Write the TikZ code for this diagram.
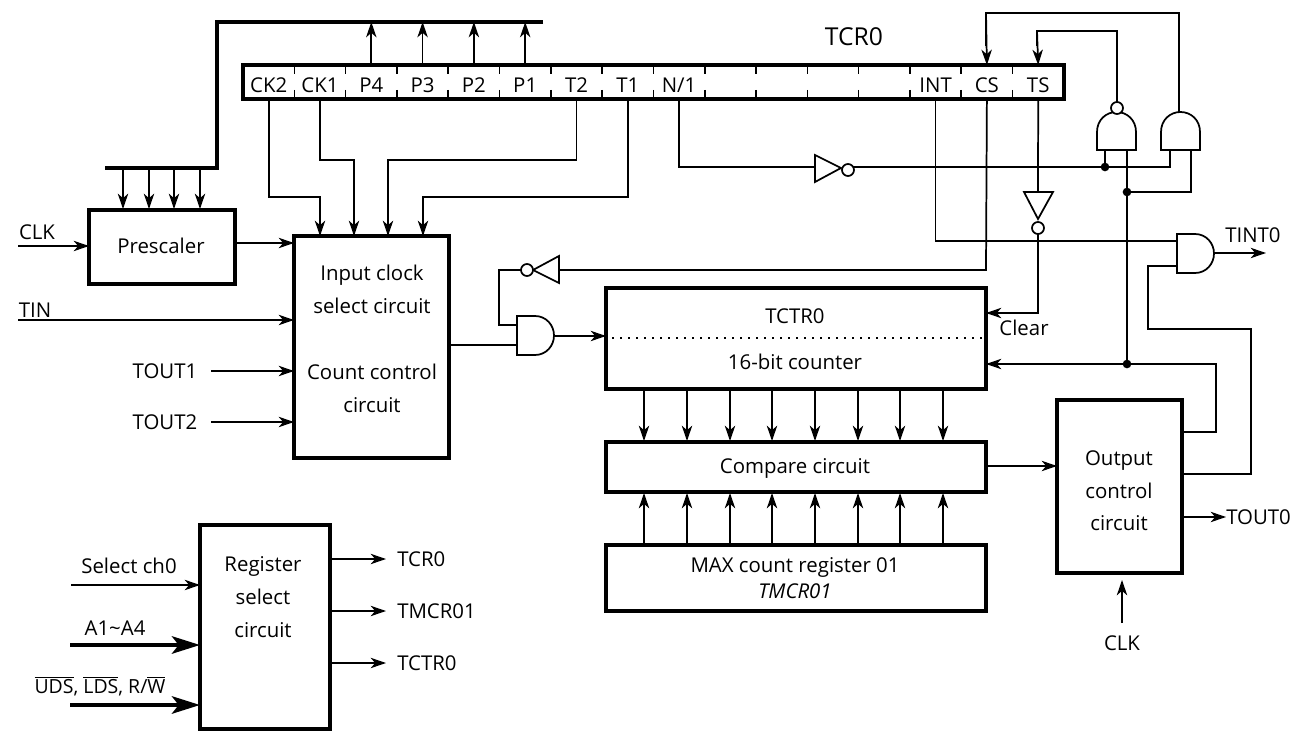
\documentclass[tikz,border=0pt]{standalone}
\usepackage{fontspec}
\setmainfont{Open Sans}
\usetikzlibrary{arrows.meta}
\tikzset{
  x=0.75pt,y=-0.75pt,
  wire/.style={line width=1.3pt,line cap=rect,line join=miter},
  arr/.style={line width=1.3pt,-{Stealth[length=11.5pt,width=7.8pt,inset=3.4pt]}},
  thickarr/.style={line width=3.2pt,-{Stealth[length=21pt,width=13pt,inset=5pt]}},
  bus/.style={line width=3.2pt,line join=miter},
  boxx/.style={draw,line width=2.8pt,inner sep=0pt,outer sep=0pt,anchor=north west},
  txt/.style={font=\fontsize{15.3}{20}\selectfont,inner sep=0pt},
  multi/.style={txt,align=center,font=\fontsize{15.3}{24.5}\selectfont},
  bubble/.style={draw,circle,line width=1.3pt,minimum size=9pt,inner sep=0pt,outer sep=0pt,fill=white},
  dot/.style={fill,circle,minimum size=6.5pt,inner sep=0pt,outer sep=0pt},
  gate/.style={draw,line width=1.3pt,line join=miter,fill=white},
  andright/.pic={\path[gate] (0,0) -- (18,0) .. controls (29,0) and (37,9) .. (37,19.5) .. controls (37,30) and (29,39) .. (18,39) -- (0,39) -- cycle;},
  andup/.pic={\path[gate] (0,0) -- (0,-18) .. controls (0,-30) and (9,-38) .. (19.5,-38) .. controls (30,-38) and (39,-30) .. (39,-18) -- (39,0) -- cycle;},
}
\newcommand{\ovl}[1]{$\overline{\hbox{#1}}$}
\begin{document}
\begin{tikzpicture}
\useasboundingbox (0,0) rectangle (1293,731);

% boxes
\node[boxx,minimum width=821*0.75pt,minimum height=34*0.75pt] (tcr) at (243,65) {};
\node[boxx,minimum width=146*0.75pt,minimum height=74*0.75pt] (pre) at (89,210) {};
\node[boxx,minimum width=155*0.75pt,minimum height=222*0.75pt] (inp) at (294,236) {};
\node[boxx,minimum width=130*0.75pt,minimum height=204*0.75pt] (reg) at (200,525) {};
\node[boxx,minimum width=380*0.75pt,minimum height=101*0.75pt] (ctr) at (606,288) {};
\node[boxx,minimum width=380*0.75pt,minimum height=50*0.75pt] (cmp) at (606,442) {};
\node[boxx,minimum width=380*0.75pt,minimum height=66*0.75pt] (max) at (606,545) {};
\node[boxx,minimum width=125*0.75pt,minimum height=173*0.75pt] (out) at (1057,400) {};

% register cell ticks and labels
\foreach \i in {1,...,15} {
  \draw[line width=1.2pt] (243+\i*51.3,66) -- (243+\i*51.3,74);
  \draw[line width=1.2pt] (243+\i*51.3,90) -- (243+\i*51.3,98);
}
\foreach \i/\t/\n in {0/CK2/ck2,1/CK1/ck1,2/P4/p4,3/P3/p3,4/P2/p2,5/P1/p1,6/T2/t2,7/T1/t1,8/N\slash 1/nn,13/INT/int,14/CS/cs,15/TS/ts} {
  \node[txt] (\n) at (243+\i*51.3+25.7,85) {\t};
  \coordinate (\n t) at (243+\i*51.3+25.7,65);
  \coordinate (\n b) at (243+\i*51.3+25.7,99);
}
\node[txt,font=\fontsize{18.5}{22}\selectfont] (tcrlab) at (854,37) {TCR0};

% text in boxes
\node[txt] (pretxt) at (161,246) {Prescaler};
\node[multi] (inptxt) at (372,339) {Input clock\\select circuit\\[25pt]Count control\\circuit};
\node[multi] (regtxt) at (263,597) {Register\\select\\circuit};
\node[txt] (ctrtop) at (795,316) {TCTR0};
\node[txt] (ctrbot) at (795,362) {16-bit counter};
\node[txt] (cmptxt) at (795,468) {Compare circuit};
\node[txt,align=center] (maxtxt) at (795,578) {MAX count register 01\\\textit{TMCR01}};
\node[multi] (outtxt) at (1119,491) {Output\\control\\circuit};
\draw[line width=1.2pt,dash pattern=on 1.2pt off 4.8pt] (612,338) -- (984,338);

% top bus
\coordinate (busa) at (543,22); \coordinate (busb) at (217,22);
\coordinate (busc) at (217,168); \coordinate (busd) at (105,168);
\draw[bus] (busa) -- (busb) -- (busc) -- (busd);
\foreach \n in {p4,p3,p2,p1} \draw[arr] (\n t) -- (\n t |- busa);
\foreach \x in {123,149,174,200} \draw[arr] (\x,168) -- (\x,209);

% control lines into input clock select
\coordinate (ck2j) at (320,197); \coordinate (ck1j) at (354,160);
\coordinate (t2j) at (388,160); \coordinate (t1j) at (423,197);
\draw[arr] (ck2b) |- (ck2j) -- (ck2j |- inp.north);
\draw[arr] (ck1b) |- (ck1j) -- (ck1j |- inp.north);
\draw[arr] (t2b) |- (t2j) -- (t2j |- inp.north);
\draw[arr] (t1b) |- (t1j) -- (t1j |- inp.north);

% inputs on the left
\node[txt] (clklab) at (37,232) {CLK};
\coordinate (clkin) at (18,246);
\draw[arr] (clkin) -- (clkin -| pre.west);
\draw[arr] (pre.east |- 0,243) -- (inp.west |- 0,243);
\node[txt] (tinlab) at (35,310) {TIN};
\coordinate (tinin) at (18,320);
\draw[arr] (tinin) -- (tinin -| inp.west);
\node[txt] (t1lab) at (165,371) {TOUT1};
\coordinate (t1in) at (211,371);
\draw[arr] (t1in) -- (t1in -| inp.west);
\node[txt] (t2lab) at (165,422) {TOUT2};
\coordinate (t2in) at (211,422);
\draw[arr] (t2in) -- (t2in -| inp.west);

% register select
\node[txt] (sellab) at (129,566) {Select ch0};
\node[txt] (alab) at (115,628) {A1\textasciitilde A4};
\node[txt,font=\fontsize{14.6}{18}\selectfont] (udslab) at (100,686) {\ovl{UDS}, \ovl{LDS}, R/\ovl{W}};
\coordinate (selin) at (71,585); \coordinate (ain) at (70,645); \coordinate (udsin) at (70,705);
\draw[arr] (selin) -- (selin -| reg.west);
\draw[thickarr] (ain) -- (ain -| reg.west);
\draw[thickarr] (udsin) -- (udsin -| reg.west);
\node[txt,anchor=west] (rtcr) at (397,559) {TCR0};
\node[txt,anchor=west] (rtmc) at (397,611) {TMCR01};
\node[txt,anchor=west] (rtct) at (397,663) {TCTR0};
\draw[arr] (reg.east |- rtcr) -- ++(56,0);
\draw[arr] (reg.east |- rtmc) -- ++(56,0);
\draw[arr] (reg.east |- rtct) -- ++(56,0);

% counter, compare, max
\foreach \x in {644,687,730,772,815,858,900,943} {
  \draw[arr] (\x,389) -- (\x,441);
  \draw[arr] (\x,545) -- (\x,493);
}
\draw[arr] (cmp.east |- 0,466) -- (out.west |- 0,466);

% NOT / AND into counter
\path (517,316) pic {andright};
\coordinate (acin) at (517,345); \coordinate (acctl) at (517,325);
\coordinate (acout) at (554,336);
\draw[wire] (inp.east |- acin) -- (acin);
\draw[arr] (acout) -- (ctr.west |- acout);
\coordinate (csturn) at (986,270);
\path[gate] (559,256) -- (559,283) -- (533,270) -- cycle;
\node[bubble] (csinv) at (527,270) {};
\draw[wire] (csb) -- (csturn) -- (559,270);
\draw[wire] (csinv.west) -- (499,270) -- (499,325) -- (acctl);

% N/1 inverter
\path[gate] (815,155) -- (815,182) -- (841,168) -- cycle;
\node[bubble] (ninv) at (848,170) {};
\coordinate (njoin) at (1105,167); \coordinate (nand) at (1170,167);
\draw[wire] (nnb) |- (815,167);
\draw[wire] (ninv.east |- nand) -- (nand) -- (1170,150);
\draw[wire] (njoin) -- (1105,150);
\node[dot] (ndot) at (njoin) {};

% top-right gates
\path (1097,150) pic {andup};
\path (1161,150) pic {andup};
\node[bubble] (nbub) at (1117,108) {};
\draw[wire] (nbub.north) -- (1117,31) -| (1037,45);
\draw[arr] (1037,31) -- (tst);
\draw[wire] (1179,112) -- (1179,13) -| (986,45);
\draw[arr] (986,13) -- (cst);

% feedback bus from output control
\coordinate (fb) at (1127,364); \coordinate (gj) at (1127,192);
\draw[wire] (1127,150) -- (fb);
\draw[wire] (1191,150) -- (1191,192) -- (gj);
\node[dot] (gdot) at (gj) {};
\node[dot] (fbdot) at (fb) {};
\draw[arr] (out.east |- 0,432) -- (1216,432) -- (1216,364) -- (ctr.east |- fb);

% TS inverter / Clear
\path[gate] (1024,192) -- (1053,192) -- (1038,219) -- cycle;
\draw[wire] (tsb) -- (1038,192);
\node[bubble] (tsinv) at (1038,228) {};
\draw[arr] (tsinv.south) -- (1038,313) -- (ctr.east |- 0,313);
\node[txt] (clearlab) at (1024,328) {Clear};

% TINT0 gate
\path (1177,234) pic {andright};
\draw[wire] (intb) |- (1177,241);
\draw[wire] (out.east |- 0,474) -- (1251,474) -- (1251,329) -- (1148,329) -- (1148,266) -- (1177,266);
\coordinate (tintout) at (1214,253);
\draw[arr] (tintout) -- (1266,253);
\node[txt] (tintlab) at (1253,235) {TINT0};

% output control
\node[txt,anchor=west] (toutlab) at (1226,517) {TOUT0};
\draw[arr] (out.east |- toutlab) -- (toutlab.west);
\node[txt] (clkb) at (1122,643) {CLK};
\coordinate (clkup) at (1122,623);
\draw[arr] (clkup) -- (1122,580);
\end{tikzpicture}
\end{document}
